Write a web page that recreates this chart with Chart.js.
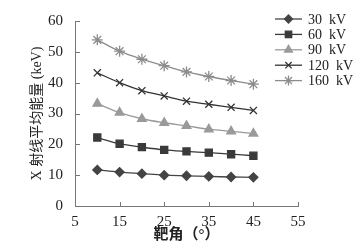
<!DOCTYPE html>
<html>
<head>
<meta charset="utf-8">
<script src="https://cdn.jsdelivr.net/npm/chart.js@4.4.0/dist/chart.umd.min.js"></script>
<style>
  html, body { margin: 0; padding: 0; background: #fff; }
  #wrap { width: 362px; height: 248px; }
</style>
</head>
<body>
<div id="wrap"><canvas id="c" width="362" height="248"></canvas></div>
<script>
// 靶角与各管电压下的平均能量
const angles = [10, 15, 20, 25, 30, 35, 40, 45];
const kv30  = [11.7, 11.0, 10.5, 10.0, 9.8, 9.6, 9.4, 9.3];
const kv60  = [22.2, 20.2, 19.1, 18.2, 17.7, 17.3, 16.8, 16.3];
const kv90  = [33.2, 30.3, 28.3, 27.0, 26.0, 24.9, 24.2, 23.5];
const kv120 = [43.2, 40.0, 37.4, 35.7, 34.0, 33.0, 32.0, 31.0];
const kv160 = [53.9, 50.2, 47.6, 45.5, 43.5, 42.0, 40.7, 39.5];
const seriesNames = ["30  kV", "60  kV", "90  kV", "120  kV", "160  kV"];
const xTicks = [5, 15, 25, 35, 45, 55];
const yTicks = [0, 10, 20, 30, 40, 50, 60];

const serif = "'Liberation Serif', 'DejaVu Serif', 'Noto Sans CJK SC', serif";

function ds(label, vals, color, style, r) {
  return {
    label,
    data: angles.map((a, i) => ({ x: a, y: vals[i] })),
    borderColor: color,
    backgroundColor: color,
    pointBorderColor: color,
    pointBackgroundColor: color,
    pointStyle: style,
    pointRadius: r,
    pointBorderWidth: 1.3,
    borderWidth: 1.3,
    tension: 0.35
  };
}

// 图例画在绘图区右上角，刻度线朝内
const legendPlugin = {
  id: "legendBox",
  afterDraw(chart) {
    const ctx = chart.ctx;
    const xs = chart.scales.x, ys = chart.scales.y;
    ctx.save();
    ctx.strokeStyle = "#777";
    ctx.lineWidth = 1;
    ctx.beginPath();
    xTicks.forEach(v => {
      const px = Math.round(xs.getPixelForValue(v)) + 0.5;
      ctx.moveTo(px, ys.bottom);
      ctx.lineTo(px, ys.bottom - 4);
    });
    yTicks.forEach(v => {
      const py = Math.round(ys.getPixelForValue(v)) + 0.5;
      ctx.moveTo(xs.left, py);
      ctx.lineTo(xs.left + 5, py);
    });
    ctx.stroke();
    ctx.restore();

    chart.data.datasets.forEach((d, i) => {
      const y = 19 + i * 15.4;
      ctx.save();
      ctx.strokeStyle = d.borderColor;
      ctx.lineWidth = 1.3;
      ctx.beginPath();
      ctx.moveTo(275, y);
      ctx.lineTo(302, y);
      ctx.stroke();
      ctx.fillStyle = d.pointBackgroundColor;
      ctx.lineWidth = 1.3;
      Chart.helpers.drawPoint(ctx, { pointStyle: d.pointStyle, radius: d.pointRadius - 0.5, borderWidth: 1.3 }, 288.5, y);
      ctx.fillStyle = "#222";
      ctx.font = "14px " + serif;
      ctx.textBaseline = "middle";
      ctx.fillText(d.label, 308, y + 1);
      ctx.restore();
    });
  }
};

new Chart(document.getElementById("c"), {
  type: "line",
  data: {
    datasets: [
      ds(seriesNames[0], kv30, "#444444", "rectRot", 4.5),
      ds(seriesNames[1], kv60, "#3a3a3a", "rect", 5),
      ds(seriesNames[2], kv90, "#9a9a9a", "triangle", 5),
      ds(seriesNames[3], kv120, "#333333", "crossRot", 5),
      ds(seriesNames[4], kv160, "#8c8c8c", "star", 5.5)
    ]
  },
  options: {
    responsive: false,
    animation: false,
    layout: { padding: { top: 20, right: 64, bottom: 0, left: 0 } },
    plugins: { legend: { display: false }, tooltip: { enabled: false } },
    scales: {
      x: {
        type: "linear",
        min: 5, max: 55,
        afterBuildTicks: s => { s.ticks = xTicks.map(v => ({ value: v })); },
        afterFit: s => { s.height = 42; },
        grid: { display: false, drawTicks: false },
        border: { color: "#777", width: 1 },
        ticks: { color: "#222", font: { family: serif, size: 15 }, padding: 7, maxRotation: 0 },
        title: { display: true, text: "靶角（°）", color: "#222", font: { family: serif, size: 15, weight: "bold" }, padding: { top: 4 } }
      },
      y: {
        min: 0, max: 60,
        afterBuildTicks: s => { s.ticks = yTicks.map(v => ({ value: v })); },
        afterFit: s => { s.width = 75; },
        grid: { display: false, drawTicks: false },
        border: { color: "#777", width: 1 },
        ticks: { color: "#222", font: { family: serif, size: 15 }, padding: 12 },
        title: { display: true, text: "X 射线平均能量 (keV)", color: "#222", font: { family: serif, size: 14 }, padding: { top: 29, bottom: 0 } }
      }
    }
  },
  plugins: [legendPlugin]
});
</script>
</body>
</html>
